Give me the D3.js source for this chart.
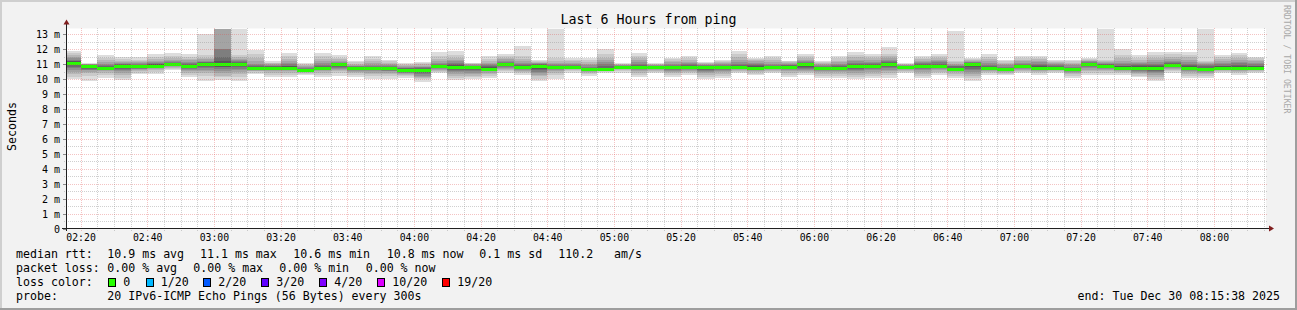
<!DOCTYPE html>
<html><head><meta charset="utf-8">
<script src="https://cdn.jsdelivr.net/npm/d3@7"></script>
<style>html,body{margin:0;padding:0;background:#f2f2f2;overflow:hidden}svg{display:block}text{white-space:pre}</style>
</head><body><svg id="chart" width="1297" height="310"></svg>
<script>
// ---------- data ----------
const chartTitle = "Last 6 Hours from ping";
const yAxisTitle = "Seconds";
const watermark = "RRDTOOL / TOBI OETIKER";
const windowStart = "2025-12-30 02:15:38";
const windowEnd = "2025-12-30 08:15:38";
const firstSample = "2025-12-30 02:20:00";
const stepMinutes = 5;
const xTickLabels = ["02:20","02:40","03:00","03:20","03:40","04:00","04:20","04:40","05:00","05:20","05:40","06:00","06:20","06:40","07:00","07:20","07:40","08:00"];
const yTickValues = [0,1,2,3,4,5,6,7,8,9,10,11,12,13];
const yTickLabels = ["0","1 m","2 m","3 m","4 m","5 m","6 m","7 m","8 m","9 m","10 m","11 m","12 m","13 m"];
const yMaxMs = 13.4;
// 20 sorted ping round-trip times (ms) for each 5-minute step, 02:20 .. 08:15
const pings = [
[10.0,10.15,10.35,10.5,10.65,10.75,10.85,10.95,11.05,11.1,11.12,11.15,11.2,11.25,11.3,11.4,11.5,11.6,11.75,11.9],
[9.85,10.2,10.4,10.5,10.6,10.65,10.7,10.75,10.8,10.85,10.9,10.9,10.92,10.95,10.97,11.0,11.0,11.02,11.04,11.06],
[10.1,10.3,10.45,10.55,10.6,10.65,10.68,10.7,10.72,10.74,10.76,10.8,10.85,10.9,10.95,11.05,11.15,11.3,11.45,11.65],
[9.95,10.1,10.3,10.45,10.55,10.65,10.72,10.78,10.83,10.87,10.9,10.93,10.97,11.0,11.05,11.1,11.18,11.25,11.35,11.46],
[10.35,10.45,10.55,10.62,10.68,10.72,10.76,10.8,10.84,10.87,10.89,10.92,10.95,10.98,11.02,11.08,11.15,11.22,11.32,11.46],
[10.35,10.5,10.6,10.68,10.74,10.78,10.82,10.85,10.87,10.88,10.9,10.94,11.0,11.05,11.1,11.18,11.25,11.35,11.5,11.66],
[10.6,10.7,10.78,10.84,10.88,10.92,10.95,10.98,11.0,11.02,11.04,11.06,11.09,11.12,11.16,11.22,11.3,11.4,11.55,11.73],
[10.12,10.3,10.45,10.55,10.65,10.72,10.78,10.83,10.87,10.89,10.91,10.94,10.98,11.03,11.1,11.18,11.28,11.38,11.5,11.66],
[9.87,10.2,10.4,10.55,10.65,10.75,10.82,10.88,10.93,10.98,11.02,11.05,11.09,11.13,11.18,11.25,11.35,11.45,11.6,13.0],
[9.94,10.16,10.25,10.4,10.55,10.7,10.8,10.85,10.9,10.98,11.02,11.05,11.2,11.46,12.0,12.06,13.5,13.8,14.0,14.5],
[9.87,10.15,10.35,10.5,10.62,10.72,10.8,10.87,10.93,10.98,11.02,11.06,11.1,11.15,11.22,11.3,11.38,11.46,11.6,14.0],
[10.34,10.45,10.52,10.58,10.63,10.67,10.7,10.72,10.73,10.74,10.75,10.78,10.82,10.88,10.95,11.05,11.2,11.4,11.7,11.95],
[10.12,10.3,10.45,10.55,10.62,10.67,10.7,10.73,10.75,10.76,10.77,10.8,10.83,10.87,10.9,10.95,11.0,11.06,11.12,11.2],
[10.12,10.3,10.42,10.52,10.6,10.65,10.7,10.73,10.75,10.77,10.79,10.82,10.86,10.92,11.0,11.1,11.22,11.38,11.55,11.77],
[10.27,10.35,10.42,10.48,10.52,10.55,10.58,10.6,10.61,10.62,10.63,10.65,10.68,10.72,10.77,10.83,10.9,10.95,11.0,11.06],
[10.15,10.3,10.42,10.52,10.6,10.66,10.7,10.73,10.75,10.77,10.78,10.8,10.84,10.9,10.98,11.08,11.2,11.35,11.55,11.77],
[10.2,10.4,10.52,10.62,10.7,10.78,10.85,10.92,10.96,10.99,11.01,11.03,11.05,11.07,11.1,11.15,11.25,11.35,11.45,11.6],
[10.15,10.3,10.42,10.5,10.56,10.6,10.64,10.67,10.7,10.72,10.73,10.75,10.78,10.82,10.86,10.92,10.98,11.05,11.15,11.25],
[10.0,10.2,10.35,10.45,10.53,10.6,10.64,10.68,10.7,10.72,10.73,10.75,10.78,10.83,10.9,10.98,11.08,11.2,11.35,11.55],
[10.0,10.2,10.35,10.45,10.52,10.58,10.63,10.67,10.7,10.72,10.73,10.76,10.8,10.85,10.9,10.96,11.02,11.1,11.2,11.28],
[10.1,10.22,10.3,10.36,10.4,10.44,10.48,10.52,10.56,10.6,10.63,10.66,10.7,10.74,10.78,10.83,10.88,10.94,11.0,11.06],
[9.83,10.0,10.1,10.18,10.25,10.32,10.4,10.47,10.54,10.6,10.64,10.68,10.72,10.76,10.8,10.85,10.92,11.0,11.08,11.17],
[10.4,10.5,10.58,10.65,10.7,10.75,10.8,10.83,10.86,10.88,10.89,10.91,10.94,10.98,11.04,11.12,11.22,11.35,11.55,11.8],
[9.95,10.1,10.25,10.38,10.48,10.56,10.64,10.7,10.76,10.82,10.86,10.9,10.95,11.02,11.1,11.2,11.32,11.45,11.65,11.9],
[10.0,10.12,10.25,10.35,10.45,10.52,10.6,10.66,10.72,10.78,10.8,10.83,10.86,10.89,10.92,10.96,11.0,11.03,11.06,11.1],
[10.1,10.25,10.35,10.45,10.52,10.57,10.6,10.62,10.64,10.65,10.67,10.72,10.8,10.88,10.95,11.02,11.1,11.22,11.38,11.55],
[10.4,10.52,10.62,10.7,10.76,10.82,10.87,10.92,10.96,10.99,11.01,11.04,11.08,11.12,11.18,11.25,11.33,11.43,11.55,11.7],
[10.27,10.4,10.5,10.58,10.65,10.7,10.75,10.79,10.82,10.84,10.86,10.88,10.92,10.97,11.03,11.1,11.2,11.35,11.55,12.25],
[9.9,10.05,10.2,10.3,10.4,10.5,10.6,10.7,10.78,10.85,10.9,10.93,10.96,11.0,11.04,11.08,11.12,11.17,11.23,11.3],
[10.05,10.3,10.45,10.55,10.62,10.68,10.72,10.75,10.78,10.8,10.82,10.84,10.87,10.9,10.95,11.0,11.08,11.2,11.4,14.0],
[10.45,10.55,10.62,10.67,10.71,10.74,10.76,10.78,10.79,10.8,10.81,10.83,10.86,10.9,10.95,11.02,11.1,11.2,11.32,11.45],
[10.2,10.32,10.4,10.46,10.52,10.56,10.6,10.62,10.64,10.65,10.66,10.68,10.72,10.78,10.85,10.95,11.05,11.17,11.3,11.45],
[10.45,10.5,10.55,10.58,10.6,10.62,10.63,10.64,10.65,10.65,10.66,10.7,10.78,10.88,11.0,11.15,11.3,11.45,11.7,12.05],
[10.45,10.55,10.62,10.67,10.7,10.73,10.76,10.78,10.79,10.8,10.81,10.83,10.85,10.88,10.91,10.94,10.97,11.0,11.03,11.06],
[10.15,10.3,10.42,10.52,10.6,10.66,10.71,10.75,10.78,10.8,10.82,10.85,10.9,10.97,11.05,11.15,11.27,11.4,11.57,11.75],
[10.4,10.5,10.58,10.64,10.69,10.72,10.75,10.77,10.79,10.8,10.81,10.83,10.85,10.88,10.91,10.94,10.97,11.0,11.03,11.06],
[10.15,10.3,10.42,10.5,10.57,10.63,10.68,10.72,10.76,10.79,10.81,10.84,10.88,10.92,10.98,11.05,11.13,11.22,11.33,11.45],
[10.27,10.4,10.5,10.58,10.64,10.69,10.73,10.76,10.78,10.8,10.81,10.84,10.88,10.93,11.0,11.08,11.18,11.28,11.4,11.55],
[10.0,10.15,10.28,10.4,10.5,10.58,10.65,10.7,10.75,10.78,10.81,10.84,10.87,10.9,10.94,10.98,11.02,11.07,11.12,11.17],
[10.1,10.25,10.37,10.47,10.55,10.62,10.68,10.72,10.76,10.79,10.81,10.84,10.87,10.91,10.96,11.01,11.07,11.13,11.2,11.28],
[10.4,10.5,10.58,10.65,10.7,10.74,10.77,10.79,10.8,10.81,10.83,10.86,10.9,10.96,11.04,11.15,11.3,11.48,11.68,11.9],
[10.27,10.38,10.47,10.55,10.6,10.64,10.67,10.7,10.71,10.72,10.74,10.8,10.88,10.97,11.05,11.12,11.2,11.28,11.37,11.45],
[10.4,10.5,10.58,10.64,10.69,10.73,10.76,10.78,10.79,10.8,10.81,10.83,10.86,10.9,10.96,11.04,11.14,11.26,11.4,11.55],
[10.15,10.3,10.42,10.52,10.6,10.67,10.72,10.77,10.81,10.84,10.86,10.88,10.91,10.94,10.98,11.03,11.08,11.13,11.19,11.25],
[10.27,10.4,10.5,10.58,10.65,10.72,10.78,10.84,10.9,10.98,11.02,11.05,11.08,11.12,11.17,11.24,11.32,11.42,11.55,11.7],
[10.1,10.25,10.37,10.47,10.55,10.62,10.67,10.7,10.73,10.75,10.76,10.78,10.81,10.85,10.9,10.96,11.03,11.1,11.17,11.25],
[10.1,10.25,10.37,10.47,10.55,10.62,10.67,10.7,10.73,10.75,10.76,10.79,10.83,10.88,10.95,11.03,11.13,11.25,11.4,11.55],
[10.0,10.15,10.3,10.42,10.52,10.6,10.67,10.73,10.8,10.86,10.89,10.92,10.96,11.02,11.1,11.2,11.32,11.47,11.63,11.8],
[10.1,10.25,10.38,10.5,10.6,10.68,10.75,10.8,10.85,10.88,10.91,10.94,10.98,11.03,11.1,11.18,11.28,11.4,11.55,11.7],
[10.1,10.28,10.42,10.55,10.65,10.75,10.83,10.9,10.95,10.99,11.01,11.04,11.08,11.13,11.2,11.3,11.42,11.55,11.72,12.15],
[10.4,10.5,10.58,10.64,10.69,10.72,10.75,10.77,10.79,10.8,10.81,10.83,10.85,10.88,10.91,10.94,10.97,11.0,11.03,11.06],
[10.1,10.25,10.38,10.5,10.6,10.68,10.74,10.79,10.83,10.87,10.89,10.92,10.96,11.01,11.07,11.15,11.24,11.34,11.45,11.55],
[10.27,10.4,10.5,10.6,10.68,10.74,10.79,10.83,10.86,10.88,10.9,10.93,10.98,11.05,11.13,11.22,11.32,11.42,11.55,11.7],
[10.1,10.25,10.37,10.46,10.53,10.58,10.61,10.63,10.64,10.65,10.66,10.7,10.78,10.86,10.92,10.98,11.05,11.13,11.25,13.25],
[9.9,10.1,10.25,10.38,10.5,10.6,10.7,10.8,10.88,10.97,11.01,11.04,11.07,11.1,11.14,11.18,11.23,11.28,11.34,11.4],
[10.27,10.4,10.5,10.57,10.63,10.68,10.71,10.73,10.74,10.75,10.76,10.79,10.84,10.9,10.98,11.08,11.2,11.35,11.52,11.7],
[10.27,10.37,10.45,10.51,10.56,10.6,10.62,10.64,10.65,10.65,10.66,10.68,10.72,10.78,10.85,10.93,11.02,11.1,11.19,11.28],
[10.4,10.5,10.58,10.65,10.7,10.75,10.78,10.81,10.83,10.85,10.86,10.88,10.92,10.97,11.03,11.1,11.2,11.3,11.42,11.55],
[10.27,10.4,10.5,10.58,10.64,10.68,10.71,10.73,10.74,10.75,10.77,10.82,10.88,10.96,11.05,11.15,11.25,11.35,11.45,11.55],
[10.4,10.5,10.57,10.63,10.67,10.7,10.72,10.74,10.75,10.75,10.76,10.78,10.82,10.87,10.93,11.0,11.07,11.14,11.22,11.3],
[10.1,10.22,10.32,10.4,10.47,10.53,10.58,10.61,10.63,10.65,10.66,10.68,10.72,10.78,10.85,10.93,11.02,11.1,11.2,11.3],
[10.27,10.42,10.55,10.65,10.73,10.8,10.86,10.91,10.95,10.99,11.01,11.03,11.06,11.1,11.14,11.19,11.25,11.31,11.38,11.45],
[10.27,10.42,10.54,10.63,10.7,10.75,10.79,10.82,10.84,10.86,10.87,10.9,10.94,10.99,11.05,11.1,11.16,11.22,11.3,14.2],
[10.27,10.4,10.5,10.58,10.64,10.69,10.72,10.75,10.77,10.78,10.79,10.82,10.86,10.92,11.0,11.1,11.22,11.4,11.62,12.0],
[10.15,10.25,10.33,10.4,10.47,10.53,10.59,10.65,10.71,10.76,10.8,10.84,10.88,10.93,10.99,11.07,11.17,11.3,11.45,11.6],
[9.9,10.05,10.18,10.3,10.4,10.5,10.58,10.65,10.71,10.76,10.8,10.84,10.89,10.95,11.03,11.13,11.27,11.42,11.6,11.8],
[10.4,10.52,10.62,10.7,10.76,10.81,10.85,10.88,10.91,10.92,10.94,10.97,11.01,11.07,11.15,11.25,11.37,11.52,11.68,11.85],
[10.1,10.25,10.38,10.48,10.56,10.63,10.68,10.72,10.75,10.77,10.79,10.82,10.87,10.94,11.03,11.15,11.3,11.47,11.65,11.85],
[10.1,10.22,10.33,10.42,10.5,10.56,10.6,10.63,10.64,10.65,10.66,10.7,10.78,10.86,10.93,11.0,11.07,11.14,11.2,14.5],
[10.4,10.5,10.58,10.64,10.69,10.72,10.75,10.77,10.78,10.78,10.79,10.82,10.86,10.92,11.0,11.1,11.22,11.35,11.48,11.6],
[10.27,10.4,10.5,10.58,10.64,10.69,10.72,10.75,10.77,10.78,10.79,10.83,10.89,10.97,11.07,11.18,11.3,11.45,11.6,11.75],
[10.4,10.5,10.58,10.64,10.69,10.72,10.75,10.77,10.78,10.78,10.79,10.82,10.86,10.92,11.0,11.1,11.2,11.3,11.4,11.5]
];
const lossLabels = ["0","1/20","2/20","3/20","4/20","10/20","19/20"];
const lossColors = ["#26ff00","#00b8ff","#0059ff","#5e00ff","#7e00ff","#dd00ff","#ff0000"];
const rttLabel = "median rtt:";
const rttStats = ["10.9 ms avg","11.1 ms max","10.6 ms min","10.8 ms now","0.1 ms sd","110.2","am/s"];
const lossLabel = "packet loss:";
const lossStats = ["0.00 % avg","0.00 % max","0.00 % min","0.00 % now"];
const colorLabel = "loss color:";
const probeLabel = "probe:";
const probeText = "20 IPv6-ICMP Echo Pings (56 Bytes) every 300s";
const endText = "end: Tue Dec 30 08:15:38 2025";

// ---------- layout ----------
const W = 1297, H = 310;
const PL = 66, PR = 1266, PT = 28.5, PB = 228.5;
const MONO = "'DejaVu Sans Mono', monospace";
const svg = d3.select("#chart");
const parse = d3.timeParse("%Y-%m-%d %H:%M:%S");
const t0 = parse(windowStart), t1 = parse(windowEnd), tFirst = parse(firstSample);
const x = d3.scaleTime().domain([t0, t1]).range([PL, PR]);
const y = d3.scaleLinear().domain([0, yMaxMs]).range([PB, PT]);

// background + 3D frame
svg.append("rect").attr("width", W).attr("height", H).attr("fill", "#f2f2f2");
svg.append("path").attr("d", `M0,0H${W}V2H2V${H}H0Z`).attr("fill", "#cfcfcf");
svg.append("path").attr("d", `M${W},${H}H0V${H-2}H${W-2}V0H${W}Z`).attr("fill", "#9e9e9e");
// canvas
svg.append("rect").attr("x", PL).attr("y", PT).attr("width", PR - PL).attr("height", PB - PT).attr("fill", "#ffffff");

// smoke
const sampleTimes = pings.map((_, i) => d3.timeMinute.offset(tFirst, i * stepMinutes));
const grayOf = k => { const v = Math.floor(190 / 10 * (10 - k)) + 50; return d3.rgb(v, v, v).formatHex(); };
const smoke = svg.append("g").attr("shape-rendering", "crispEdges");
const cols = pings.map((p, i) => {
  const s = p.slice().sort(d3.ascending);
  const xa = Math.max(PL + 1, Math.round(x(d3.timeMinute.offset(sampleTimes[i], -stepMinutes))));
  const xb = Math.min(PR, Math.round(x(sampleTimes[i])));
  return { s, xa, xb, med: d3.median(s) };
});
cols.forEach(c => {
  for (let k = 1; k <= 10; k++) {
    const lo = c.s[k - 1], hi = c.s[20 - k];
    const yt = Math.max(PT, y(hi)), yb = Math.min(PB, y(lo));
    if (yb - yt <= 0) continue;
    smoke.append("rect").attr("x", c.xa).attr("width", c.xb - c.xa)
      .attr("y", yt).attr("height", yb - yt).attr("fill", grayOf(k));
  }
});
// median line (0 loss -> green)
smoke.selectAll("rect.med").data(cols).join("rect").attr("class", "med")
  .attr("x", d => d.xa).attr("width", d => d.xb - d.xa)
  .attr("y", d => Math.round(y(d.med)) - 1).attr("height", 3).attr("fill", lossColors[0]);

// grid (drawn over the graph, semi transparent, dotted)
const grid = svg.append("g").attr("shape-rendering", "crispEdges");
const minorT = d3.timeMinute.every(5).range(t0, t1);
const majorT = d3.timeMinute.every(20).range(t0, t1);
const isMajorT = t => t.getMinutes() % 20 === 0;
const GRIDC = "rgba(143,143,143,0.42)", MGRIDC = "rgba(222,79,79,0.34)";
minorT.filter(t => !isMajorT(t)).forEach(t => {
  const xx = Math.round(x(t)) + 0.5;
  grid.append("line").attr("x1", xx).attr("x2", xx).attr("y1", PT - 0.5).attr("y2", PB + 2)
    .attr("stroke", GRIDC).attr("stroke-dasharray", "1,1");
});
d3.range(0.5, yMaxMs, 1).forEach(v => {
  const yy = Math.round(y(v)) + 0.5;
  grid.append("line").attr("x1", PL - 2).attr("x2", PR + 2).attr("y1", yy).attr("y2", yy)
    .attr("stroke", GRIDC).attr("stroke-dasharray", "1,1");
});
majorT.forEach(t => {
  const xx = Math.round(x(t)) + 0.5;
  grid.append("line").attr("x1", xx).attr("x2", xx).attr("y1", PT - 0.5).attr("y2", PB + 2)
    .attr("stroke", MGRIDC).attr("stroke-dasharray", "1,1");
});
yTickValues.filter(v => v > 0).forEach(v => {
  const yy = Math.round(y(v)) + 0.5;
  grid.append("line").attr("x1", PL - 2).attr("x2", PR + 2).attr("y1", yy).attr("y2", yy)
    .attr("stroke", MGRIDC).attr("stroke-dasharray", "1,1");
});

// axes via d3
const xAxis = d3.axisBottom(x).tickValues(majorT).tickFormat((d, i) => xTickLabels[i]).tickSize(0);
const gx = svg.append("g").attr("transform", `translate(0,${PB})`).call(xAxis);
gx.select(".domain").remove();
gx.selectAll("text").attr("y", 12.8).attr("dy", null)
  .attr("font-family", MONO).attr("font-size", "9.8px").attr("fill", "#000");
const yAxis = d3.axisLeft(y).tickValues(yTickValues).tickFormat((d, i) => yTickLabels[i]).tickSize(4).tickPadding(2.5);
const gy = svg.append("g").attr("transform", `translate(${PL + 0.5},0)`).call(yAxis);
gy.select(".domain").remove();
gy.selectAll(".tick").attr("transform", d => `translate(0,${Math.round(y(d)) + 0.5})`);
gy.selectAll(".tick line").attr("stroke", "#8a8a8a").attr("shape-rendering", "crispEdges");
gy.selectAll("text").attr("dy", "0.36em").attr("font-family", MONO).attr("font-size", "10px").attr("fill", "#000");

// axis lines + arrows
svg.append("line").attr("x1", PL - 4).attr("x2", PR + 5).attr("y1", PB).attr("y2", PB)
  .attr("stroke", "#1f1f1f").attr("shape-rendering", "crispEdges");
svg.append("line").attr("x1", PL + 0.5).attr("x2", PL + 0.5).attr("y1", PB + 2).attr("y2", PT - 5)
  .attr("stroke", "#1f1f1f").attr("shape-rendering", "crispEdges");
svg.append("path").attr("d", `M${PR + 3},${PB - 3}L${PR + 8},${PB}L${PR + 3},${PB + 3}Z`).attr("fill", "#801f1f");
svg.append("path").attr("d", `M${PL - 2.5},${PT - 4}L${PL + 0.5},${PT - 9}L${PL + 3.5},${PT - 4}Z`).attr("fill", "#801f1f");

// titles
svg.append("text").attr("x", 648.5).attr("y", 23.5).attr("text-anchor", "middle")
  .attr("font-family", MONO).attr("font-size", "13.3px").attr("fill", "#000").text(chartTitle);
svg.append("text").attr("transform", "translate(15.5,126.5) rotate(-90)").attr("text-anchor", "middle")
  .attr("font-family", MONO).attr("font-size", "11.6px").attr("fill", "#000").text(yAxisTitle);
svg.append("text").attr("transform", "translate(1284,5) rotate(90)").attr("text-anchor", "start")
  .attr("font-family", MONO).attr("font-size", "8.2px").attr("fill", "#a8a8a8").text(watermark);

// legend
const leg = svg.append("g").attr("font-family", MONO).attr("font-size", "11.6px").attr("fill", "#000");
const put = (tx, xx, yy, anchor) => leg.append("text").attr("x", xx).attr("y", yy).attr("text-anchor", anchor || "start").text(tx);
const r1 = 258.3, r2 = 272.3, r3 = 286.3, r4 = 300.3;
put(rttLabel, 16, r1);
[107.3, 200, 293.3, 386.7, 479.3, 558.3, 614].forEach((xx, i) => put(rttStats[i], xx, r1));
put(lossLabel, 16, r2);
[107.3, 193.3, 279.3, 365.7].forEach((xx, i) => put(lossStats[i], xx, r2));
put(colorLabel, 16, r3);
[108.5, 146, 203.5, 261.5, 319.5, 377.5, 442.5].forEach((xx, i) => {
  leg.append("rect").attr("x", xx).attr("y", 278.5).attr("width", 7).attr("height", 8)
    .attr("fill", lossColors[i]).attr("stroke", "#000").attr("stroke-width", 1).attr("shape-rendering", "crispEdges");
  put(lossLabels[i], xx + 14.8, r3);
});
put(probeLabel, 16, r4);
put(probeText, 107.3, r4);
put(endText, 1280, r4, "end");
</script></body></html>
